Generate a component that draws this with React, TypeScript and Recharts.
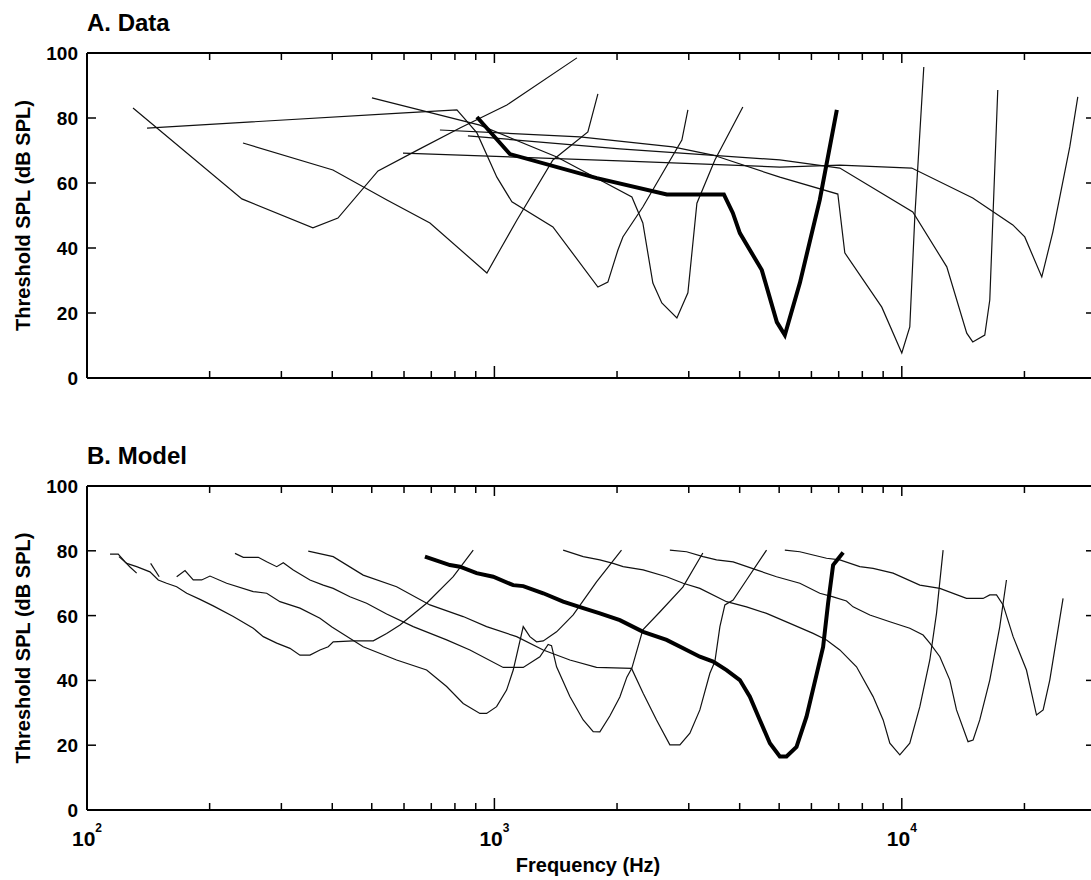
import React from 'react';
import { LineChart, Line, XAxis, YAxis, Label } from 'recharts';

const FONT = 'Arial, "Liberation Sans", Helvetica, sans-serif';

const X_DOMAIN = [100, 29300];
const X_TICKS = [100, 200, 300, 400, 500, 600, 700, 800, 900, 1000, 2000, 3000, 4000, 5000, 6000, 7000, 8000, 9000, 10000, 20000];
const DECADES = [100, 1000, 10000];
const Y_TICKS = [0, 20, 40, 60, 80, 100];

type Pt = [number, number]; // [frequency Hz, threshold dB SPL]

// A. Data - measured tuning curves
const dataA1: Pt[] = [[129.7, 83.1], [240, 55.1], [358.5, 46.2], [413, 49.2], [518, 63.7], [649, 70.2], [823, 76.9], [1073, 84.0], [1594, 98.5]];
const dataA2: Pt[] = [[140.4, 76.9], [586.5, 81.5], [809, 82.5], [906, 75.4], [1014, 61.8], [1104, 54.2], [1392, 46.5], [1795, 28.0], [1899, 29.5], [2010, 39.4], [2067, 43.4], [2314, 52.6], [2885, 73.2], [2985, 82.5]];
const dataA3: Pt[] = [[500.5, 86.2], [921, 77.8], [1423, 68.0], [2175, 55.7], [2314, 47.7], [2449, 29.2], [2576, 23.1], [2805, 18.5], [2985, 26.2], [3141, 53.8], [3477, 67.1], [4072, 83.4]];
const dataA4: Pt[] = [[241.5, 72.3], [401.5, 64.0], [544.8, 54.8], [694.7, 47.7], [958.5, 32.3], [1031.6, 39.4], [1136, 48.6], [1392, 67.1], [1696, 75.7], [1795, 87.4]];
const dataA5: Pt[] = [[735, 76.3], [1621, 74.2], [2742, 71.1], [3438, 68.6], [5019, 61.8], [6966, 56.6], [7246, 38.5], [8931, 21.8], [10000, 7.7], [10462, 15.7], [10762, 49.5], [11324, 95.7]];
const dataA6: Pt[] = [[596.5, 69.2], [2032, 66.8], [5019, 64.9], [7045, 65.5], [10580, 64.6], [14934, 55.4], [18728, 47.1], [20036, 43.4], [22060, 31.1], [23480, 44.9], [25840, 71.1], [27040, 86.5]];
const dataA7: Pt[] = [[861, 74.5], [2032, 70.5], [5019, 67.1], [7045, 64.6], [10641, 51.1], [12895, 34.2], [14434, 13.8], [14934, 11.1], [15983, 13.2], [16442, 24.0], [17201, 88.6]];
const dataAThick: Pt[] = [[906, 80.3], [1091.5, 68.9], [1784, 61.5], [2650, 56.5], [3658, 56.5], [3848, 50.8], [4004, 44.6], [4533, 33.2], [4935, 17.2], [5163, 13.2], [5620, 29.2], [6290, 54.8], [6927, 82.5]];

// B. Model - simulated tuning curves
const dataB0: Pt[] = [[113.9, 79.0], [119.3, 79.0], [124, 76.6], [127.5, 75.0], [132.4, 73.1]];
const dataBShort: Pt[] = [[143.3, 76.1], [150.4, 72.0]];
const dataB1: Pt[] = [[119.8, 78.2], [125.2, 76.1], [132.4, 75.1], [142.7, 73.5], [149.6, 71.0], [156.8, 70.0], [166, 68.9], [175.7, 66.9], [189.4, 65.0], [204.1, 63.0], [228.6, 59.7], [255.9, 56.1], [270.8, 53.5], [292.2, 51.5], [314.9, 49.9], [333.2, 47.8], [352.6, 47.8], [373.1, 49.4], [391, 50.4], [402.1, 51.9], [450.2, 52.2], [504.3, 52.2], [543.9, 54.5], [586.5, 57.1], [681.8, 63.8], [792.4, 72.0], [887.2, 80.2]];
const dataB3: Pt[] = [[166, 72.0], [174, 73.9], [182.3, 71.0], [191.2, 71.0], [200.4, 72.2], [220.2, 70.0], [255.9, 67.4], [276.1, 66.9], [297.6, 64.3], [333.2, 62.3], [373.1, 59.2], [399.2, 56.5], [476.4, 50.4], [575.4, 46.3], [681.8, 43.2], [763.4, 38.1], [838.3, 32.9], [921.3, 29.8], [956.9, 29.8], [1012.5, 31.9], [1071.3, 37.0], [1112.3, 43.2], [1177, 56.6], [1222, 53.5], [1269, 51.9], [1318, 52.2], [1421, 55.0], [1561, 60.2], [1781, 70.4], [2051, 80.2]];
const dataB4: Pt[] = [[230.8, 79.2], [241.9, 78.0], [263.3, 78.0], [276.1, 76.6], [292.2, 75.1], [303.2, 76.3], [320.9, 74.1], [352.6, 71.0], [380.1, 69.4], [402.1, 68.4], [441.9, 65.8], [485.7, 63.8], [543.9, 60.5], [632.1, 56.6], [763.4, 52.5], [870.9, 49.4], [1051, 44.0], [1177, 44.0], [1293, 47.3], [1355, 51.1], [1381, 50.7], [1421, 44.2], [1532, 35.0], [1652, 27.8], [1748, 24.2], [1815, 24.1], [1920, 29.0], [2032, 34.9], [2114, 41.0], [2175, 43.8], [2314, 55.6], [2547, 61.1], [2901, 68.8], [3248, 79.3]];
const dataB5: Pt[] = [[349.2, 79.9], [402.1, 78.2], [476.4, 72.5], [575.4, 68.9], [694.7, 63.3], [838.3, 59.7], [956.9, 56.6], [1134, 53.5], [1318, 49.4], [1532, 46.3], [1781, 44.0], [2171, 43.7], [2318, 36.0], [2500, 27.8], [2696, 20.1], [2853, 20.1], [3019, 23.7], [3194, 30.9], [3380, 42.2], [3477, 45.8], [3577, 56.6], [3679, 63.3], [3855, 64.8], [4158, 71.0], [4656, 80.2]];
const dataB6: Pt[] = [[1475, 80.2], [1652, 78.2], [1815, 77.2], [1956, 76.1], [2070, 75.1], [2318, 74.1], [2646, 72.0], [2906, 70.0], [3194, 68.4], [3714, 64.3], [4158, 62.7], [4656, 60.7], [5313, 57.6], [6058, 54.5], [6535, 52.5], [7045, 49.4], [7742, 44.2], [8502, 35.0], [8999, 27.8], [9346, 20.6], [9888, 17.0], [10462, 20.6], [11074, 31.9], [11716, 46.3], [12168, 60.7], [12630, 80.2]];
const dataB7: Pt[] = [[2696, 80.2], [2963, 79.7], [3253, 78.2], [3510, 77.2], [3855, 76.6], [4399, 74.1], [4926, 72.0], [5620, 70.0], [6290, 66.9], [6783, 65.8], [7315, 64.5], [7593, 62.7], [8347, 60.2], [9346, 58.1], [10462, 56.1], [11280, 54.0], [11716, 51.5], [12400, 47.3], [13120, 40.1], [13623, 30.9], [14542, 21.1], [14962, 21.6], [15537, 27.8], [16442, 40.1], [17399, 56.6], [18068, 71.0]];
const dataB8: Pt[] = [[5163, 80.2], [5620, 79.7], [6058, 78.7], [6535, 77.7], [7045, 77.2], [7887, 75.1], [8502, 74.6], [9520, 73.1], [11074, 69.4], [12400, 68.4], [14412, 65.3], [15830, 65.3], [16442, 66.4], [17080, 66.4], [17730, 63.3], [18760, 53.5], [20230, 43.2], [21410, 29.3], [22230, 30.9], [23080, 40.1], [24880, 65.3]];
const dataBThick: Pt[] = [[675.3, 78.2], [777.8, 75.6], [822.9, 75.1], [904.3, 73.1], [993.3, 72.0], [1112, 69.4], [1177, 69.1], [1318, 66.9], [1475, 64.3], [1652, 62.3], [1815, 60.7], [2032, 58.6], [2318, 55.0], [2646, 52.5], [2906, 49.9], [3194, 47.3], [3443, 45.8], [3714, 43.2], [4004, 40.1], [4237, 35.0], [4482, 27.8], [4745, 20.6], [5019, 16.5], [5212, 16.5], [5515, 19.5], [5836, 28.8], [6174, 41.7], [6410, 50.3], [6594, 63.9], [6783, 75.6], [7178, 79.5]];

const panelASeries = [dataA1, dataA2, dataA3, dataA4, dataA5, dataA6, dataA7];
const panelBSeries = [dataB0, dataBShort, dataB1, dataB3, dataB4, dataB5, dataB6, dataB7, dataB8];

const rows = (pts: Pt[]) => pts.map(([f, db]) => ({ f, db }));

const PLOT_LEFT = 87;
const PLOT_TOP = 53;
const CHART_W = 1095;

const BottomTick = (props: any) => {
  const { x, y, payload, showLabel } = props;
  const v = payload.value;
  const major = DECADES.includes(v);
  return (
    <g>
      <line x1={x} y1={y} x2={x} y2={y - (major ? 12 : 7)} stroke="#000" strokeWidth={1.5} />
      {showLabel && major && (
        <text x={x} y={y + 36} textAnchor="middle" fontFamily={FONT} fontSize={21} fontWeight="bold" fill="#000">
          10<tspan dy={-14} fontSize={12}>{Math.round(Math.log10(v))}</tspan>
        </text>
      )}
    </g>
  );
};

const TopTick = (props: any) => {
  const { x, y, payload } = props;
  const major = DECADES.includes(payload.value);
  return <line x1={x} y1={y} x2={x} y2={y + (major ? 10 : 7)} stroke="#000" strokeWidth={1.5} />;
};

const LeftTick = (props: any) => {
  const { x, y, payload } = props;
  return (
    <g>
      <line x1={x} y1={y} x2={x + 9} y2={y} stroke="#000" strokeWidth={1.5} />
      <text x={x - 9} y={y + 7} textAnchor="end" fontFamily={FONT} fontSize={19} fontWeight="bold" fill="#000">
        {payload.value}
      </text>
    </g>
  );
};

const RightTick = (props: any) => {
  const { x, y } = props;
  return <line x1={x} y1={y} x2={x - 6} y2={y} stroke="#000" strokeWidth={1.5} />;
};

function Panel({ title, series, thick, top, height, plotH, xLabels }: any) {
  // axes are 1px thick, so margins are 1px short of the plot edges
  const bottom = height - PLOT_TOP - plotH - 1;
  const midY = PLOT_TOP + plotH / 2;
  return (
    <div style={{ position: 'absolute', left: 0, top, width: CHART_W, height }}>
      <LineChart width={CHART_W} height={height} margin={{ top: PLOT_TOP - 1, right: 2, bottom, left: PLOT_LEFT - 1 }}>
        <XAxis
          xAxisId="b"
          dataKey="f"
          type="number"
          scale="log"
          domain={X_DOMAIN}
          ticks={X_TICKS}
          interval={0}
          allowDataOverflow
          height={1}
          tickSize={0}
          tickMargin={0}
          tickLine={false}
          axisLine={{ stroke: '#000', strokeWidth: 2 }}
          tick={(p: any) => <BottomTick {...p} showLabel={xLabels} />}
        >
          {xLabels && (
            <Label
              content={() => (
                <text x={588} y={PLOT_TOP + plotH + 62} textAnchor="middle" fontFamily={FONT} fontSize={20} fontWeight="bold" fill="#000">
                  Frequency (Hz)
                </text>
              )}
            />
          )}
        </XAxis>
        <XAxis
          xAxisId="t"
          orientation="top"
          dataKey="f"
          type="number"
          scale="log"
          domain={X_DOMAIN}
          ticks={X_TICKS}
          interval={0}
          allowDataOverflow
          height={1}
          tickSize={0}
          tickMargin={0}
          tickLine={false}
          axisLine={{ stroke: '#000', strokeWidth: 2 }}
          tick={(p: any) => <TopTick {...p} />}
        >
          <Label
            content={() => (
              <text x={PLOT_LEFT} y={31} fontFamily={FONT} fontSize={24} fontWeight="bold" fill="#000">
                {title}
              </text>
            )}
          />
        </XAxis>
        <YAxis
          yAxisId="l"
          type="number"
          domain={[0, 100]}
          ticks={Y_TICKS}
          interval={0}
          allowDataOverflow
          width={1}
          tickSize={0}
          tickMargin={0}
          tickLine={false}
          axisLine={{ stroke: '#000', strokeWidth: 2 }}
          tick={(p: any) => <LeftTick {...p} />}
        >
          <Label
            content={() => (
              <text
                x={30}
                y={midY}
                transform={`rotate(-90 30 ${midY})`}
                textAnchor="middle"
                fontFamily={FONT}
                fontSize={20}
                fontWeight="bold"
                fill="#000"
              >
                Threshold SPL (dB SPL)
              </text>
            )}
          />
        </YAxis>
        <YAxis
          yAxisId="r"
          orientation="right"
          type="number"
          domain={[0, 100]}
          ticks={Y_TICKS}
          interval={0}
          allowDataOverflow
          width={1}
          tickSize={0}
          tickMargin={0}
          tickLine={false}
          axisLine={{ stroke: '#000', strokeWidth: 2 }}
          tick={(p: any) => <RightTick {...p} />}
        />
        {series.map((pts: Pt[], i: number) => (
          <Line
            key={`s-${i}`}
            xAxisId="b"
            yAxisId="l"
            data={rows(pts)}
            dataKey="db"
            type="linear"
            stroke="#111"
            strokeWidth={1.2}
            dot={false}
            isAnimationActive={false}
          />
        ))}
        <Line
          xAxisId="b"
          yAxisId="l"
          data={rows(thick)}
          dataKey="db"
          type="linear"
          stroke="#000"
          strokeWidth={4}
          dot={false}
          isAnimationActive={false}
        />
      </LineChart>
    </div>
  );
}

export default function App() {
  return (
    <div style={{ position: 'absolute', left: 0, top: 0, width: 1091, height: 880, overflow: 'hidden', background: '#fff' }}>
      <Panel title="A. Data" series={panelASeries} thick={dataAThick} top={0} height={410} plotH={325} xLabels={false} />
      <Panel title="B. Model" series={panelBSeries} thick={dataBThick} top={433} height={447} plotH={324} xLabels={true} />
    </div>
  );
}
